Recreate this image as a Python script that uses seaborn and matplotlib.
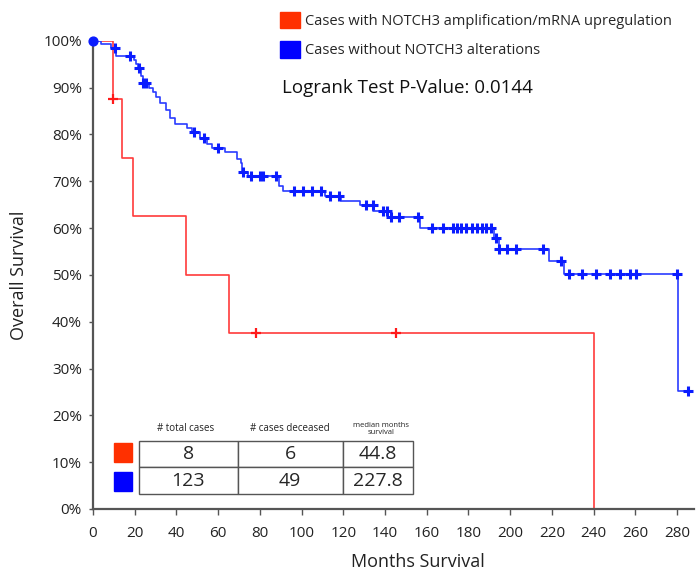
import numpy as np
import matplotlib
matplotlib.use('Agg')
import matplotlib.pyplot as plt
import seaborn as sns
from matplotlib.patches import Patch, Rectangle

# --- data ---
red_step_months = [0, 9.4, 13.8, 19.0, 44.8, 65.0, 240.0]
red_step_surv = [1.0, 0.875, 0.75, 0.625, 0.5, 0.375, 0.0]
red_censor_months = [9.6, 78.0, 145.3]

blue_step_months = [0, 4.0, 8.5, 11.0, 19.5, 20.8, 21.5, 23.0, 23.8, 27.0, 28.8, 30.2, 32.0,
                    35.0, 36.8, 39.2, 45.0, 47.3, 51.3, 54.5, 57.0, 63.3, 69.0, 70.8, 71.5,
                    74.5, 89.2, 91.0, 111.2, 118.9, 128.0, 134.4, 141.6, 156.8, 192.2, 194.6,
                    218.6, 225.8, 280.2, 285.3]
blue_step_surv = [1.0, 0.992, 0.984, 0.967, 0.958, 0.950, 0.941, 0.925, 0.909, 0.900, 0.891,
                  0.880, 0.868, 0.853, 0.834, 0.822, 0.813, 0.806, 0.792, 0.779, 0.771, 0.763,
                  0.748, 0.738, 0.720, 0.711, 0.689, 0.680, 0.668, 0.658, 0.650, 0.636, 0.624,
                  0.599, 0.579, 0.555, 0.530, 0.502, 0.251, 0.251]
blue_censor_months = [10.7, 17.9, 21.9, 24.0, 25.6, 48.6, 53.3, 59.9, 71.7, 75.8, 80.2, 81.5,
                      87.8, 96.2, 100.7, 105.0, 109.5, 113.6, 118.0, 130.9, 134.1, 139.2, 140.8,
                      142.9, 146.8, 156.0, 162.5, 167.8, 172.6, 174.5, 176.6, 178.6, 181.8, 184.2,
                      186.6, 188.2, 190.9, 193.0, 194.8, 198.6, 202.6, 215.9, 224.5, 228.0, 234.4,
                      241.1, 248.0, 252.8, 257.3, 260.5, 280.0, 285.3]

group_labels = ['Cases with NOTCH3 amplification/mRNA upregulation',
                'Cases without NOTCH3 alterations']
table_headers = ['# total cases', '# cases deceased', 'median months\nsurvival']
table_total = [8, 123]
table_deceased = [6, 49]
table_median = [44.8, 227.8]
pvalue = 0.0144


def surv_at(months, step_months, step_surv):
    idx = np.searchsorted(step_months, months, side='right') - 1
    return np.asarray(step_surv)[idx]


sns.set_style('white')
plt.rcParams['font.family'] = ['Open Sans', 'DejaVu Sans']

red = '#ff3b3b'
blue = '#2a3cff'
fig = plt.figure(figsize=(6.97, 5.75), dpi=100)
ax = fig.add_axes([0.1334, 0.1148, 0.862, 0.8144])

sns.lineplot(x=red_step_months, y=red_step_surv, drawstyle='steps-post', color=red,
             linewidth=1.2, ax=ax, estimator=None)
sns.lineplot(x=blue_step_months, y=blue_step_surv, drawstyle='steps-post', color=blue,
             linewidth=1.2, ax=ax, estimator=None)

sns.scatterplot(x=red_censor_months, y=surv_at(red_censor_months, red_step_months, red_step_surv),
                marker='+', s=45, color='#ff1a1a', linewidth=1.6, ax=ax, zorder=4)
sns.scatterplot(x=blue_censor_months, y=surv_at(blue_censor_months, blue_step_months, blue_step_surv),
                marker='+', s=55, color='#0a1cff', linewidth=2.2, ax=ax, zorder=4, clip_on=False)
ax.scatter([0], [1.0], s=40, color='#0a1cff', zorder=5, clip_on=False)

ax.set_xlim(0, 288)
ax.set_ylim(0, 1.0)
ax.set_xticks(np.arange(0, 281, 20))
ax.set_yticks(np.arange(0, 1.01, 0.1))
ax.set_yticklabels([f'{int(round(v * 100))}%' for v in np.arange(0, 1.01, 0.1)])
ax.tick_params(axis='both', labelsize=11, colors='#222222')
ax.tick_params(axis='y', length=3, width=1, color='#555555', pad=5, direction='out', left=True)
ax.tick_params(axis='x', length=4, width=1, color='#555555', pad=8, direction='out', bottom=True)
for s in ['top', 'right']:
    ax.spines[s].set_visible(False)
for s in ['left', 'bottom']:
    ax.spines[s].set_color('#555555')
    ax.spines[s].set_linewidth(1.6)

ax.set_xlabel('Months Survival', fontsize=13, color='#222222')
ax.set_ylabel('Overall Survival', fontsize=13, color='#222222')
ax.xaxis.set_label_coords(0.541, -0.094)
ax.yaxis.set_label_coords(-0.108, 0.5)

# legend
handles = [Patch(facecolor='#ff3000', edgecolor='#ff3000'),
           Patch(facecolor='#0000ff', edgecolor='#0000ff')]
fig.legend(handles, group_labels, loc='upper left', bbox_to_anchor=(0.4017, 0.9797),
           frameon=False, fontsize=10.5, handlelength=1.37, handleheight=1.37,
           handletextpad=0.35, labelspacing=0.85, borderpad=0, borderaxespad=0)
fig.text(282 / 697, 1 - 88 / 575, f'Logrank Test P-Value: {pvalue}', fontsize=13.5,
         va='center', ha='left', color='#111111')

# summary table
cells = [[str(t), str(d), str(m)] for t, d, m in zip(table_total, table_deceased, table_median)]
tab = ax.table(cellText=cells, cellLoc='center', colWidths=[0.359, 0.383, 0.258],
               bbox=[0.077, 0.032, 0.456, 0.114])
tab.auto_set_font_size(False)
tab.set_fontsize(14)
for cell in tab.get_celld().values():
    cell.set_edgecolor('#555555')
    cell.set_linewidth(1.0)
header_x = [0.154, 0.327, 0.480]
header_size = [7, 7, 5.5]
for hx, h, fs in zip(header_x, table_headers, header_size):
    ax.text(hx, 0.171, h, transform=ax.transAxes, ha='center', va='center', fontsize=fs,
            linespacing=0.85, color='#222222')
for yy, c in zip([0.0997, 0.0384], ['#ff3000', '#0000ff']):
    ax.add_patch(Rectangle((0.035, yy), 0.0305, 0.0406, transform=ax.transAxes,
                           facecolor=c, edgecolor=c, clip_on=False))

fig.savefig('out.png', dpi=100)
